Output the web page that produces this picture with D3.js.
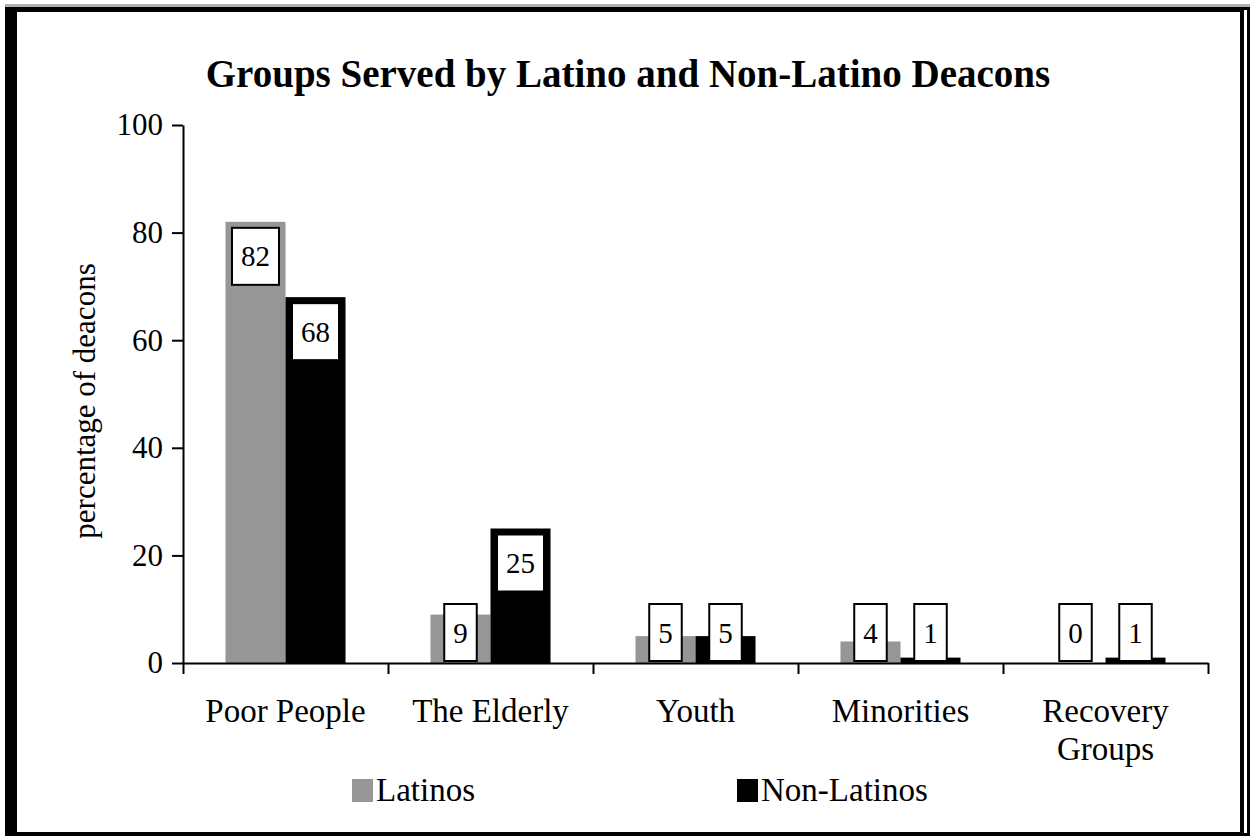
<!DOCTYPE html>
<html>
<head>
<meta charset="utf-8">
<script src="https://cdn.jsdelivr.net/npm/d3@7"></script>
<style>
  html, body { margin: 0; padding: 0; background: #fff; }
  svg { display: block; }
  text { font-family: "Liberation Serif", "Times New Roman", serif; fill: #000; }
</style>
</head>
<body>
<div id="chart"></div>
<script>
// data
const categories = [["Poor People"], ["The Elderly"], ["Youth"], ["Minorities"], ["Recovery", "Groups"]];
const seriesNames = ["Latinos", "Non-Latinos"];
const latinos = [82, 9, 5, 4, 0];
const nonLatinos = [68, 25, 5, 1, 1];
const yTicks = [0, 20, 40, 60, 80, 100];

const colors = { "Latinos": "#969696", "Non-Latinos": "#000000" };

const width = 1254, height = 838;
const svg = d3.select('#chart').append('svg')
    .attr('width', width)
    .attr('height', height);

// frame (thick black border with a doubled edge on the right)
svg.append('rect').attr('x', 5).attr('y', 4).attr('width', 1245).attr('height', 832)
    .attr('fill', '#b0b0b0');
svg.append('rect').attr('x', 5).attr('y', 7).attr('width', 1245).attr('height', 829)
    .attr('fill', '#000');
svg.append('rect').attr('x', 1244).attr('y', 10).attr('width', 3).attr('height', 823)
    .attr('fill', '#fff');
svg.append('rect').attr('x', 17).attr('y', 12).attr('width', 1223).attr('height', 820)
    .attr('fill', '#fff');

// title
svg.append('text')
    .attr('x', 628)
    .attr('y', 87)
    .attr('text-anchor', 'middle')
    .attr('font-size', '39px')
    .attr('font-weight', 'bold')
    .text('Groups Served by Latino and Non-Latino Deacons');

// scales
const plotLeft = 183, plotRight = 1208, plotTop = 125, plotBase = 663;
const y = d3.scaleLinear().domain([0, 100]).range([plotBase, plotTop]);
const x0 = d3.scaleBand().domain(d3.range(categories.length)).range([plotLeft, plotRight]).padding(0);
const x1 = d3.scaleBand().domain(seriesNames).range([0, x0.bandwidth()]).paddingInner(0).paddingOuter(0.708);
const xEdges = d3.scaleLinear().domain([0, categories.length]).range([plotLeft, plotRight]);

// y axis
const yAxis = svg.append('g')
    .attr('transform', `translate(${plotLeft},0)`)
    .call(d3.axisLeft(y).tickValues(yTicks).tickSize(11).tickSizeOuter(0).tickPadding(9));
yAxis.selectAll('path, line').attr('stroke', '#000').attr('stroke-width', 2);
yAxis.selectAll('text')
    .attr('font-size', '31px')
    .attr('font-family', '"Liberation Serif", "Times New Roman", serif')
    .attr('fill', '#000');

svg.append('text')
    .attr('transform', 'translate(84,401) rotate(-90)')
    .attr('text-anchor', 'middle')
    .attr('dominant-baseline', 'central')
    .attr('font-size', '31px')
    .text('percentage of deacons');

// bars
const rows = categories.map((c, i) => ({ i, values: [
    { key: "Latinos", value: latinos[i] },
    { key: "Non-Latinos", value: nonLatinos[i] }
]}));

const groups = svg.append('g').selectAll('g')
    .data(rows)
    .enter()
    .append('g')
    .attr('transform', d => `translate(${x0(d.i)},0)`);

groups.selectAll('rect.bar')
    .data(d => d.values)
    .enter()
    .append('rect')
    .attr('class', 'bar')
    .attr('x', d => x1(d.key))
    .attr('y', d => y(d.value))
    .attr('width', x1.bandwidth())
    .attr('height', d => y(0) - y(d.value))
    .attr('fill', d => colors[d.key]);

// x axis with ticks at category edges
const xAxis = svg.append('g')
    .attr('transform', `translate(0,${plotBase})`)
    .call(d3.axisBottom(xEdges).tickValues(d3.range(categories.length + 1)).tickSize(11).tickSizeOuter(0).tickFormat(''));
xAxis.selectAll('path, line').attr('stroke', '#000').attr('stroke-width', 2);

// value labels in boxed white tags
const boxH = 57;
groups.each(function(d) {
    const g = d3.select(this);
    d.values.forEach(v => {
        const cx = x1(v.key) + x1.bandwidth() / 2;
        const boxTop = Math.min(y(v.value) + 6, y(0) - 2 - boxH);
        const lg = g.append('g');
        const rect = lg.append('rect');
        const t = lg.append('text')
            .attr('x', cx)
            .attr('y', boxTop + boxH / 2)
            .attr('text-anchor', 'middle')
            .attr('dominant-baseline', 'central')
            .attr('font-size', '29px')
            .text(v.value);
        const w = t.node().getComputedTextLength() + 18;
        rect.attr('x', cx - w / 2)
            .attr('y', boxTop)
            .attr('width', w)
            .attr('height', boxH)
            .attr('fill', '#fff')
            .attr('stroke', '#000')
            .attr('stroke-width', 2);
    });
});

// category labels
svg.append('g').selectAll('text')
    .data(categories)
    .enter()
    .append('text')
    .attr('x', (d, i) => x0(i) + x0.bandwidth() / 2)
    .attr('y', 722)
    .attr('text-anchor', 'middle')
    .attr('font-size', '33px')
    .each(function(lines) {
        const t = d3.select(this);
        lines.forEach((line, k) => {
            t.append('tspan')
                .attr('x', t.attr('x'))
                .attr('dy', k === 0 ? 0 : 38)
                .text(line);
        });
    });

// legend
const legendX = [352, 737];
seriesNames.forEach((name, i) => {
    svg.append('rect')
        .attr('x', legendX[i])
        .attr('y', 779)
        .attr('width', 21)
        .attr('height', 23)
        .attr('fill', colors[name]);
    svg.append('text')
        .attr('x', legendX[i] + 24)
        .attr('y', 801)
        .attr('font-size', '33px')
        .text(name);
});
</script>
</body>
</html>
